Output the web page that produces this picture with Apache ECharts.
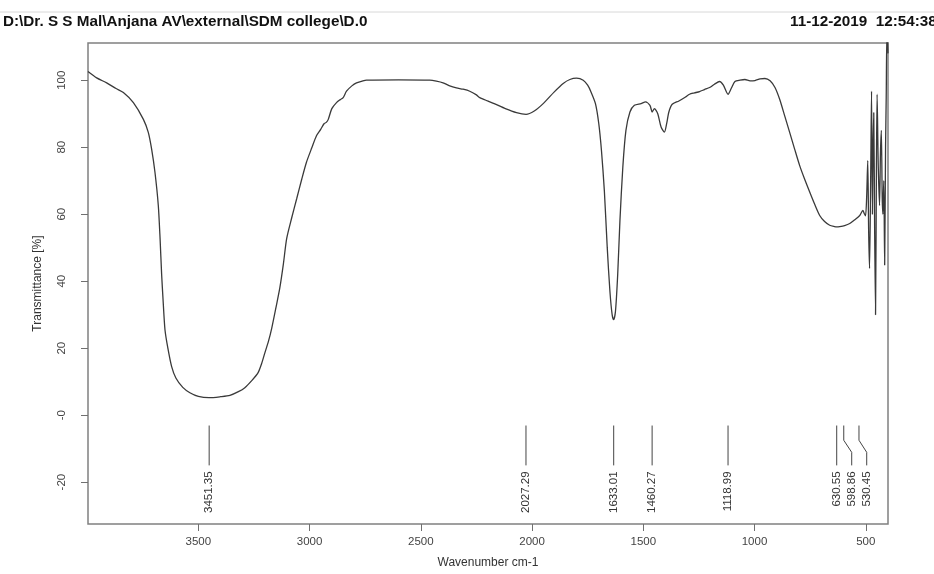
<!DOCTYPE html>
<html>
<head>
<meta charset="utf-8">
<script src="https://cdn.jsdelivr.net/npm/echarts@6/dist/echarts.min.js"></script>
<style>
html,body{margin:0;padding:0;background:#fff;}
#chart{width:934px;height:574px;}
</style>
</head>
<body>
<div id="chart"></div>
<script>
// ---- data ----
const headerLeft = 'D:\\Dr. S S Mal\\Anjana AV\\external\\SDM college\\D.0';
const headerRight = '11-12-2019  12:54:38';
const xTitle = 'Wavenumber cm-1';
const yTitle = 'Transmittance [%]';
const xTicks = [3500, 3000, 2500, 2000, 1500, 1000, 500];
const yTicks = [-20, 0, 20, 40, 60, 80, 100];
const yTickLabels = ['-20', '-0', '20', '40', '60', '80', '100'];

const wavenumber = [
 3996,3957,3912,3870,3837,3792,3747,3725,3710,3695,3680,3672,3665,3659,3650,3637,3620,3601,3570,3538,
 3500,3452,3400,3358,3320,3291,3260,3232,3215,3201,3185,3170,3150,3134,3118,3103,3080,3058,3035,3014,
 2990,2969,2950,2935,2925,2916,2900,2879,2862,2849,2834,2810,2789,2760,2744,2600,2460,2430,2400,2370,
 2340,2310,2280,2250,2235,2200,2170,2120,2070,2027,1990,1950,1900,1860,1830,1800,1770,1750,1735,1715,
 1700,1688,1675,1662,1650,1640,1633,1625,1615,1605,1592,1578,1560,1540,1510,1490,1470,1460,1450,1435,
 1420,1405,1395,1385,1370,1340,1310,1292,1270,1247,1225,1202,1180,1157,1140,1119,1105,1088,1065,1043,
 1020,998,975,953,930,908,887,865,842,820,797,775,752,730,707,685,662,640,630,617,
 595,572,550,527,513,507,501,496,491,487,483,478,474,470,467,464,460,456,452,449,
 444,438,434,430,426,423,419,415,411,408,405,402,400
];
const transmittance = [
 102.6,100.7,99.2,97.5,96.3,93.3,88.3,84.4,79.4,72.5,62.6,52.7,42,34.9,25.5,20,14.5,11.1,8.3,6.7,
 5.6,5.2,5.5,5.9,7,8.2,10.3,12.6,15.5,18.6,22,26,32.5,37.9,45,52.7,59,64.6,70.5,75.5,
 79.8,83.4,85.3,87,87.4,88.3,91.5,93.3,94.2,94.8,96.7,98.3,99.2,99.8,100,100.1,100,99.7,99.2,98.3,
 97.7,97.3,96.7,95.6,94.8,93.8,93,91.5,90.3,89.8,90.8,93,96.5,99,100.2,100.6,100,98.5,96.5,93,
 87,79,67,50,37,30,28.5,31,42,58,74,85,90.5,92.5,93,93.5,92.5,90.5,91.5,90,
 86,84.5,87,90.5,92.8,93.8,95,95.8,96.2,96.6,97.2,97.8,98.8,99.6,98.5,95.8,97.5,99.6,100,100.2,
 99.8,99.9,100.4,100.5,99.8,97.8,94.3,89.5,84.4,79.5,74.5,70.5,66.6,63,59.6,57.8,56.7,56.3,56.2,56.3,
 56.6,57.2,58.3,59.6,61.1,60.2,59.5,65,76,55,43.8,70,96.7,60,80,90.3,55,30,75,95.8,
 75,62.6,78,85,65,60,70,44.8,80,95,114,112,108
];

const peakPositions = [3451.35, 2027.29, 1633.01, 1460.27, 1118.99, 630.55, 598.86, 530.45];
const peakLabels = ['3451.35', '2027.29', '1633.01', '1460.27', '1118.99', '630.55', '598.86', '530.45'];

// ---- layout constants (data units for marker levels) ----
const X_MIN = 400, X_MAX = 3996, Y_MIN = -32.5, Y_MAX = 111.1;
const markTop = -3.1, markBend1 = -7.5, markBend2 = -11.1, markBottom = -15, labelTop = -16.8;
const FONT = '"Liberation Sans", Arial, sans-serif';

const lineData = wavenumber.map((w, i) => [w, transmittance[i]]);
const peakData = peakPositions.map((p, i) => [p, i]);

const chart = echarts.init(document.getElementById('chart'), null, {renderer: 'canvas'});

function renderPeak(params, api) {
  const idx = params.dataIndex;
  let prevLabelX = -Infinity;
  let myLabelX = 0, myX = 0;
  for (let i = 0; i <= idx; i++) {
    const x = api.coord([peakPositions[i], markTop])[0];
    const lx = Math.max(x, prevLabelX + 15);
    prevLabelX = lx;
    if (i === idx) { myLabelX = lx; myX = x; }
  }
  const yTop = api.coord([peakPositions[idx], markTop])[1];
  const yB1 = api.coord([peakPositions[idx], markBend1])[1];
  const yB2 = api.coord([peakPositions[idx], markBend2])[1];
  const yBot = api.coord([peakPositions[idx], markBottom])[1];
  const yLab = api.coord([peakPositions[idx], labelTop])[1];
  const pts = Math.abs(myLabelX - myX) < 0.5
    ? [[myX, yTop], [myX, yBot]]
    : [[myX, yTop], [myX, yB1], [myLabelX, yB2], [myLabelX, yBot]];
  return {
    type: 'group',
    children: [
      {type: 'polyline', shape: {points: pts}, style: {stroke: '#444', lineWidth: 1, fill: null}},
      {type: 'text', x: myLabelX, y: yLab, rotation: Math.PI / 2,
       style: {text: peakLabels[idx], font: '11.5px ' + FONT, fill: '#333', align: 'right', verticalAlign: 'middle'}}
    ]
  };
}

const option = {
  animation: false,
  backgroundColor: '#fff',
  grid: {left: 88, right: 46, top: 43, bottom: 47, show: true, borderColor: '#808080', borderWidth: 1.5},
  graphic: [
    {type: 'line', shape: {x1: 0, y1: 12, x2: 934, y2: 12}, style: {stroke: '#d8d8d8', lineWidth: 1}},
    {type: 'text', x: 3, y: 15, scaleX: 1.09, style: {text: headerLeft, font: 'bold 14px ' + FONT, fill: '#111'}},
    {type: 'text', x: 790, y: 15, scaleX: 1.09, style: {text: headerRight, font: 'bold 14px ' + FONT, fill: '#111'}}
  ],
  xAxis: {
    type: 'value', inverse: true, min: X_MIN, max: X_MAX,
    axisLine: {show: false, onZero: false},
    splitLine: {show: false},
    axisTick: {show: true, length: 7, customValues: xTicks, lineStyle: {color: '#707070', width: 1}},
    axisLabel: {customValues: xTicks, margin: 12, fontSize: 11.5, color: '#444', fontFamily: FONT,
      formatter: v => String(v)},
    name: xTitle, nameLocation: 'middle', nameGap: 33,
    nameTextStyle: {fontSize: 12, color: '#333', fontFamily: FONT}
  },
  yAxis: {
    type: 'value', min: Y_MIN, max: Y_MAX,
    axisLine: {show: false, onZero: false},
    splitLine: {show: false},
    axisTick: {show: true, length: 7, customValues: yTicks, lineStyle: {color: '#707070', width: 1}},
    axisLabel: {
      customValues: yTicks, rotate: 90, margin: 20, fontSize: 11.5, color: '#444', fontFamily: FONT,
      align: 'center', verticalAlign: 'bottom',
      formatter: v => { const k = yTicks.indexOf(v); return k >= 0 ? yTickLabels[k] : ''; }
    },
    name: yTitle, nameLocation: 'middle', nameGap: 44, nameRotate: 90,
    nameTextStyle: {fontSize: 12, color: '#333', fontFamily: FONT}
  },
  series: [
    {
      type: 'line', data: lineData, showSymbol: false, symbol: 'none', smooth: 0.25,
      lineStyle: {color: '#3a3a3a', width: 1.3}, clip: true, z: 3
    },
    {
      type: 'custom', data: peakData, renderItem: renderPeak, clip: false, z: 2,
      encode: {x: 0, y: 1}
    }
  ]
};
chart.setOption(option);
</script>
</body>
</html>
